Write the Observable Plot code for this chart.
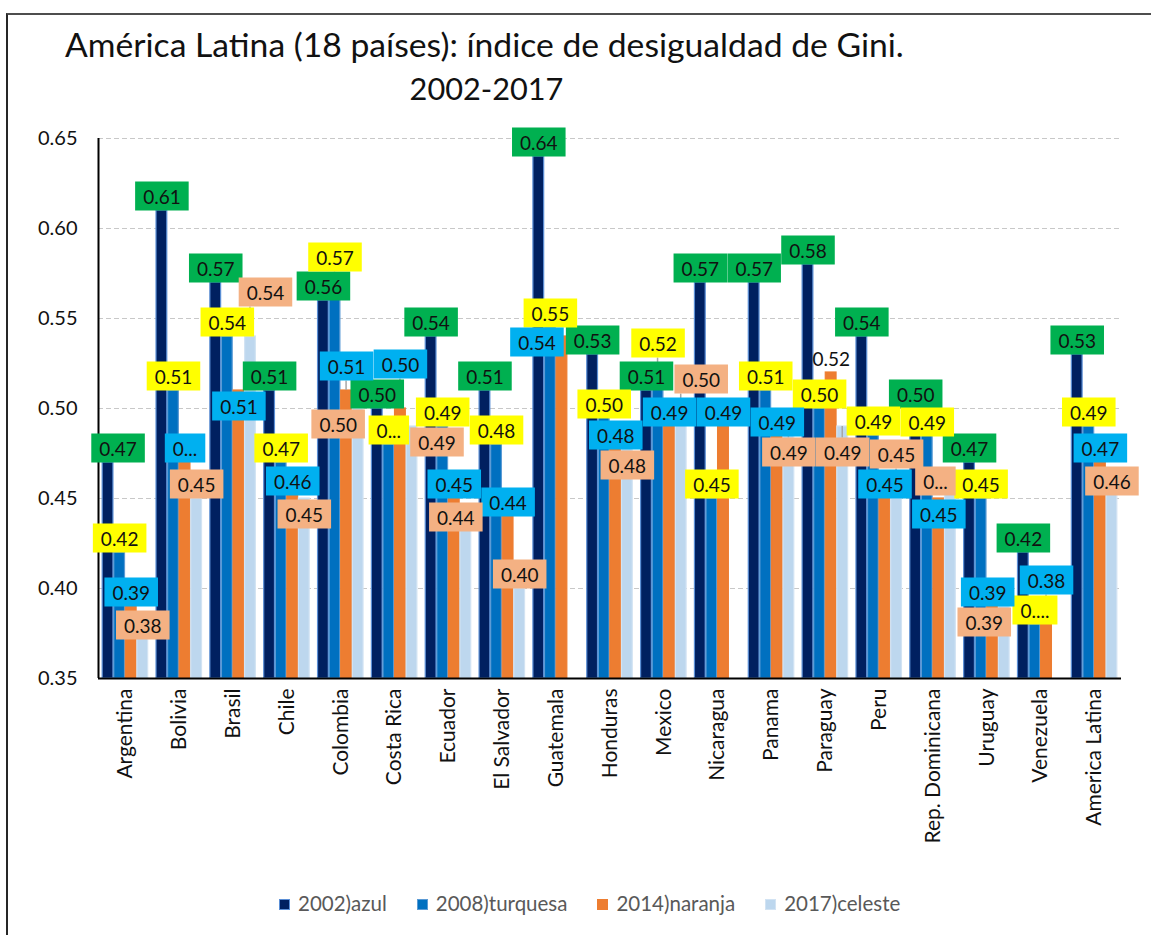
<!DOCTYPE html>
<html><head><meta charset="utf-8">
<script src="https://cdn.jsdelivr.net/npm/d3@7"></script>
<script src="https://cdn.jsdelivr.net/npm/@observablehq/plot@0.6"></script>
<style>
body{margin:0;background:#fff;width:1151px;height:935px;overflow:hidden;position:relative;font-family:Lato,sans-serif;}
#frame{position:absolute;left:6px;top:13px;width:1300px;height:1000px;border-left:2px solid #262626;border-top:2px solid #4d4d4d;box-sizing:border-box}
.t{position:absolute;white-space:nowrap;color:#111;line-height:1.2;}
#t1{left:65px;top:24px;font-size:33.7px}
#t2{left:0;width:973px;text-align:center;top:71px;font-size:30.7px}
#chart{position:absolute;left:0;top:0}
#legend{position:absolute;left:279px;top:891px;display:flex;gap:30px;font-size:20.5px;color:#595959;align-items:center;white-space:nowrap}
.sw{display:inline-block;width:11px;height:11px;margin-right:8px;vertical-align:middle;box-sizing:border-box;position:relative;top:-1px}
</style></head>
<body>
<div id="frame"></div>
<div id="chart"></div>
<div class="t" id="t1">América Latina (18 países): índice de desigualdad de Gini.</div>
<div class="t" id="t2">2002-2017</div>
<div id="legend"></div>
<script>
const countries = ["Argentina","Bolivia","Brasil","Chile","Colombia","Costa Rica","Ecuador","El Salvador","Guatemala","Honduras","Mexico","Nicaragua","Panama","Paraguay","Peru","Rep. Dominicana","Uruguay","Venezuela","America Latina"];
const seriesNames = ["2002)azul","2008)turquesa","2014)naranja","2017)celeste"];
const v2002 = [0.47,0.61,0.57,0.51,0.56,0.50,0.54,0.51,0.64,0.53,0.51,0.57,0.57,0.58,0.54,0.50,0.47,0.42,0.53];
const v2008 = [0.42,0.51,0.54,0.47,0.565,0.48,0.49,0.48,0.545,0.50,0.52,0.45,0.51,0.50,0.485,0.49,0.45,0.38,0.49];
const v2014 = [0.39,0.47,0.51,0.46,0.51,0.50,0.45,0.44,0.54,0.48,0.49,0.49,0.49,0.52,0.45,0.45,0.39,0.38,0.47];
const v2017 = [0.38,0.45,0.54,0.45,0.50,0.49,0.44,0.40,null,0.48,0.50,null,0.49,0.49,0.45,0.46,0.39,null,0.46];
const t2002 = ["0.47","0.61","0.57","0.51","0.56","0.50","0.54","0.51","0.64","0.53","0.51","0.57","0.57","0.58","0.54","0.50","0.47","0.42","0.53"];
const t2008 = ["0.42","0.51","0.54","0.47","0.57","0...","0.49","0.48","0.55","0.50","0.52","0.45","0.51","0.50","0.49","0.49","0.45","0....","0.49"];
const t2014 = ["0.39","0...","0.51","0.46","0.51","0.50","0.45","0.44","0.54","0.48","0.49","0.49","0.49","0.52","0.45","0.45","0.39","0.38","0.47"];
const t2017 = ["0.38","0.45","0.54","0.45","0.50","0.49","0.44","0.40","","0.48","0.50","","0.49","0.49","0.45","0...","0.39","","0.46"];
const yTicks = [0.35,0.40,0.45,0.50,0.55,0.60,0.65];
const unboxed = [["Paraguay",2]];

const barColors = ["#002060","#0070c0","#ed7d31","#bdd7ee"];
const barStrokes = ["#5b8fd6","#5b9bd5","#ed7d31","#d2e3f3"];
const boxColors = ["#00b050","#ffff00","#00b0f0","#f4b183"];

const values = [v2002,v2008,v2014,v2017];
const texts = [t2002,t2008,t2014,t2017];
const step = 0.215, barW = 0.2;
const rows = [];
values.forEach((arr,k)=>arr.forEach((v,i)=>{
  if (v == null) return;
  const c = i + (k-1.5)*step;
  rows.push({i,k,country:countries[i],value:v,label:texts[k][i],x1:c-barW/2,x2:c+barW/2,xc:c});
}));

const chart = Plot.plot({
  width:1151, height:880, marginLeft:98, marginRight:30, marginTop:138, marginBottom:202,
  style:{fontFamily:"Lato, sans-serif", fontSize:"20px", color:"#111", background:"transparent"},
  x:{domain:[-0.5,18.5], axis:null},
  y:{domain:[0.35,0.65], axis:null},
  marks:[
    Plot.ruleY(yTicks.filter(d=>d>0.35),{stroke:"#c8c8c8",strokeDasharray:"5,3",strokeWidth:1}),
    ...[0,1,2,3].map(k=>Plot.rect(rows.filter(r=>r.k===k),{x1:"x1",x2:"x2",y1:0.35,y2:"value",fill:barColors[k],stroke:barStrokes[k],strokeWidth:1.2})),
    Plot.ruleX([-0.5],{y1:0.35,y2:0.65,stroke:"#000",strokeWidth:2}),
    Plot.ruleY([0.35],{stroke:"#000",strokeWidth:2}),
    Plot.axisY({ticks:yTicks, tickFormat:".2f", tickSize:0, tickPadding:21, fontSize:20, label:null}),
    Plot.axisX({ticks:d3.range(countries.length), tickFormat:i=>countries[i], tickRotate:-90, tickSize:0, tickPadding:10, fontSize:21, label:null}),
    ...[0,1,2,3].map(k=>Plot.text(rows.filter(r=>r.k===k),{x:"xc", y:"value", text:"label", lineAnchor:"bottom", dy:-7, fontSize:19, fill:"#111", ariaDescription:"lbl"+k}))
  ]
});
document.getElementById("chart").append(chart);

// label boxes with simple collision avoidance
(function(){
  const svg = chart.tagName.toLowerCase()==="svg" ? chart : chart.querySelector("svg");
  const sr = svg.getBoundingClientRect();
  const ns = "http://www.w3.org/2000/svg";
  let xs=null, ys=null;
  try { xs = chart.scale("x"); ys = chart.scale("y"); } catch(e) {}
  const padX = 8, padY = 3;
  const placed = [];
  const cands = [];
  for (let dy=-70; dy<=70; dy+=5) for (let dx=-45; dx<=45; dx+=5) cands.push([dx,dy]);
  cands.sort((a,b)=>Math.hypot(a[0]*1.3,a[1])-Math.hypot(b[0]*1.3,b[1]));
  const overlap=(a,b)=>{const w=Math.min(a.x+a.w,b.x+b.w)-Math.max(a.x,b.x);const h=Math.min(a.y+a.h,b.y+b.h)-Math.max(a.y,b.y);return w>0&&h>0?w*h:0;};
  const firstG = svg.querySelector('g[aria-description="lbl0"]');
  const leaders = document.createElementNS(ns,"g");
  firstG.parentNode.insertBefore(leaders, firstG);
  [0,1,2,3].forEach(k=>{
    const g = svg.querySelector(`g[aria-description="lbl${k}"]`);
    const data = rows.filter(r=>r.k===k);
    const ts = Array.from(g.querySelectorAll("text"));
    ts.forEach((t,j)=>{
      const d = data[j];
      if (!d.label) return;
      const r = t.getBoundingClientRect();
      const box = {x:r.left-sr.left-padX, y:r.top-sr.top-padY, w:r.width+2*padX, h:r.height+2*padY};
      const ax = xs && xs.apply ? xs.apply(d.xc) : box.x+box.w/2;
      const ay = ys && ys.apply ? ys.apply(d.value) : box.y+box.h+4;
      let best=[0,0], bestCost=Infinity;
      for (const [dx,dy] of cands){
        const b={x:box.x+dx,y:box.y+dy,w:box.w,h:box.h};
        if (b.x+b.w>1151 || b.y<118 || b.x<90) continue;
        let ov=0; for (const p of placed) ov+=overlap(b,p);
        const cost = ov*0.15 + Math.hypot(dx*1.3,dy);
        if (cost<bestCost){bestCost=cost;best=[dx,dy];}
      }
      const [dx,dy]=best;
      const fb={x:box.x+dx,y:box.y+dy,w:box.w,h:box.h};
      placed.push(fb);
      const nx=Math.max(fb.x,Math.min(ax,fb.x+fb.w)), ny=Math.max(fb.y,Math.min(ay,fb.y+fb.h));
      if (Math.hypot(nx-ax,ny-ay)>8){
        const ln=document.createElementNS(ns,"line");
        ln.setAttribute("x1",ax);ln.setAttribute("y1",ay);ln.setAttribute("x2",nx);ln.setAttribute("y2",ny);
        ln.setAttribute("stroke","#a6a6a6");ln.setAttribute("stroke-width","1.5");
        leaders.appendChild(ln);
      }
      const wrap=document.createElementNS(ns,"g");
      t.parentNode.insertBefore(wrap,t);
      wrap.setAttribute("transform",`translate(${dx},${dy})`);
      const bb=t.getBBox();
      const rect=document.createElementNS(ns,"rect");
      rect.setAttribute("x",bb.x-padX);rect.setAttribute("y",bb.y-padY);
      rect.setAttribute("width",bb.width+2*padX);rect.setAttribute("height",bb.height+2*padY);
      const nb = unboxed.some(([c,kk])=>c===d.country&&kk===k);
      rect.setAttribute("fill", nb ? "none" : boxColors[k]);
      if (t.getAttribute("transform")) rect.setAttribute("transform",t.getAttribute("transform"));
      wrap.appendChild(rect); wrap.appendChild(t);
    });
  });
})();

// legend
const lg = document.getElementById("legend");
seriesNames.forEach((s,k)=>{
  const it=document.createElement("span");
  const sw=document.createElement("span"); sw.className="sw";
  sw.style.background=barColors[k]; sw.style.border=`1px solid ${barStrokes[k]}`;
  it.appendChild(sw); it.appendChild(document.createTextNode(s));
  lg.appendChild(it);
});
</script>
</body></html>
